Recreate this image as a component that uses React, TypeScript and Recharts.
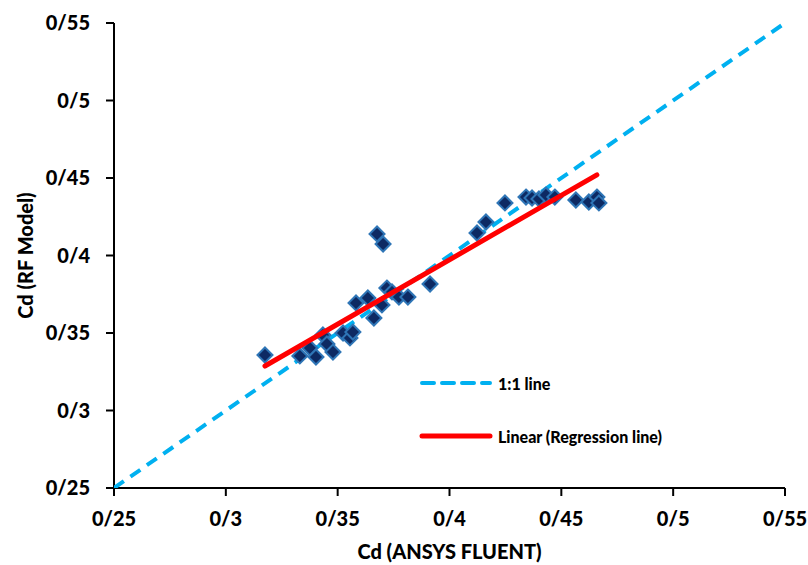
import React from 'react';
import { ScatterChart, Scatter, XAxis, YAxis } from 'recharts';

// Cd from ANSYS FLUENT (x) vs Cd from RF model (y)
const fluentCd = [
  0.3175, 0.3331, 0.3376, 0.3403, 0.3434, 0.3452, 0.3479, 0.3524, 0.3555, 0.3568, 0.3582,
  0.3635, 0.3662, 0.3698, 0.372, 0.3743, 0.3774, 0.3814, 0.3913, 0.3676, 0.3703,
  0.4123, 0.4163, 0.4248, 0.4342, 0.4369, 0.44, 0.4431, 0.4471, 0.4565, 0.4623, 0.4659, 0.4668,
];
const rfCd = [
  0.3358, 0.3352, 0.3403, 0.3345, 0.3487, 0.3429, 0.3377, 0.35, 0.3468, 0.3506, 0.3694,
  0.3726, 0.3597, 0.3681, 0.379, 0.3765, 0.3732, 0.3732, 0.3816, 0.4139, 0.4074,
  0.4145, 0.4216, 0.4339, 0.4377, 0.4371, 0.4365, 0.439, 0.4377, 0.4358, 0.4345, 0.4377, 0.4339,
];

const oneToOneX = [0.25, 0.55];
const oneToOneY = [0.25, 0.55];
const regressionX = [0.3175, 0.4659];
const regressionY = [0.3287, 0.452];

const ticks = [0.25, 0.3, 0.35, 0.4, 0.45, 0.5, 0.55];
const tickLabels = ['0/25', '0/3', '0/35', '0/4', '0/45', '0/5', '0/55'];

const points = fluentCd.map((x, i) => ({ x, y: rfCd[i] }));
const oneToOne = oneToOneX.map((x, i) => ({ x, y: oneToOneY[i] }));
const regression = regressionX.map((x, i) => ({ x, y: regressionY[i] }));

const font = 'Lato, "Open Sans", sans-serif';
const fmt = (v: number) => tickLabels[ticks.findIndex((t) => Math.abs(t - v) < 1e-9)] ?? String(v);

const Diamond = (props: any) => {
  const { cx, cy } = props;
  const r = 7.5;
  return (
    <polygon
      points={`${cx},${cy - r} ${cx + r},${cy} ${cx},${cy + r} ${cx - r},${cy}`}
      fill="#0d2a63"
      stroke="#2e75b6"
      strokeWidth={2}
    />
  );
};

const NoDot = () => <g />;

const LegendBox = () => (
  <div style={{ position: 'absolute', left: 418, top: 371, fontFamily: font, fontWeight: 900, fontSize: 16, color: '#000' }}>
    <div style={{ display: 'flex', alignItems: 'center', height: 24 }}>
      <svg width={80} height={10}>
        <line x1={4} y1={5} x2={72} y2={5} stroke="#00b0f0" strokeWidth={4} strokeDasharray="12 8" strokeLinecap="round" />
      </svg>
      <span>1:1 line</span>
    </div>
    <div style={{ display: 'flex', alignItems: 'center', height: 24, marginTop: 29 }}>
      <svg width={80} height={10}>
        <line x1={4} y1={5} x2={72} y2={5} stroke="#ff0000" strokeWidth={5} strokeLinecap="round" />
      </svg>
      <span>Linear (Regression line)</span>
    </div>
  </div>
);

export default function App() {
  const tickStyle = { fontFamily: font, fontWeight: 900, fontSize: 20, fill: '#000' };
  return (
    <div style={{ position: 'absolute', left: 0, top: 0, width: 808, height: 565, background: '#fff' }}>
      <ScatterChart width={808} height={565} margin={{ top: 23, right: 23, bottom: 0, left: 0 }}>
        <XAxis
          type="number"
          dataKey="x"
          domain={[0.25, 0.55]}
          ticks={ticks}
          tickFormatter={fmt}
          allowDataOverflow
          height={77}
          stroke="#000"
          strokeWidth={2}
          tickSize={8}
          tickMargin={16}
          tick={tickStyle}
          label={{ value: 'Cd (ANSYS FLUENT)', position: 'insideBottom', offset: 6, style: tickStyle }}
        />
        <YAxis
          type="number"
          dataKey="y"
          domain={[0.25, 0.55]}
          ticks={ticks}
          tickFormatter={fmt}
          allowDataOverflow
          width={114}
          stroke="#000"
          strokeWidth={2}
          tickSize={8}
          tickMargin={16}
          tick={tickStyle}
          label={{ value: 'Cd (RF Model)', angle: -90, position: 'insideLeft', offset: 26, style: { ...tickStyle, textAnchor: 'middle' } }}
        />
        <Scatter
          data={oneToOne}
          shape={NoDot}
          line={{ stroke: '#00b0f0', strokeWidth: 4, strokeDasharray: '12 8' }}
          isAnimationActive={false}
        />
        <Scatter data={points} shape={Diamond} isAnimationActive={false} />
        <Scatter
          data={regression}
          shape={NoDot}
          line={{ stroke: '#ff0000', strokeWidth: 5, strokeLinecap: 'round' }}
          isAnimationActive={false}
        />
      </ScatterChart>
      <LegendBox />
    </div>
  );
}
